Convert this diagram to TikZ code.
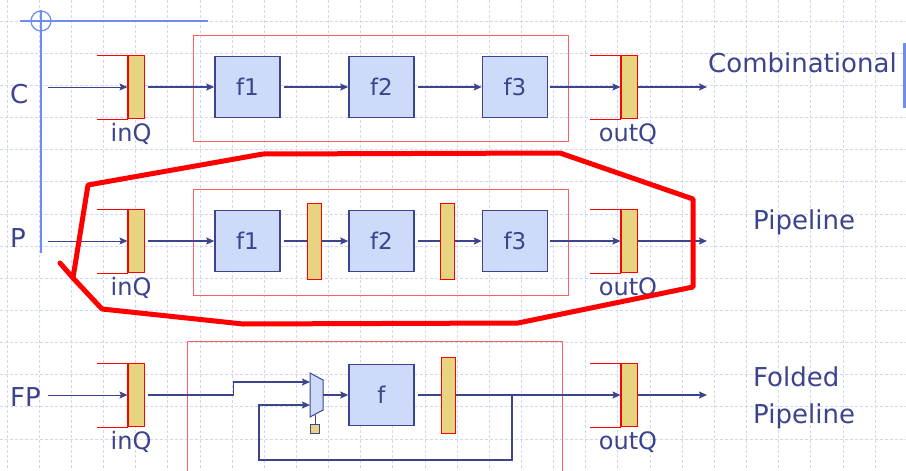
\documentclass[tikz,border=0pt]{standalone}
\usepackage{fontspec}
\setmainfont{DejaVu Sans}
\usetikzlibrary{arrows.meta}
\definecolor{inkblue}{RGB}{60,68,140}
\definecolor{boxblue}{RGB}{206,218,250}
\definecolor{qyellow}{RGB}{232,212,128}
\definecolor{framered}{RGB}{255,95,95}
\definecolor{gridblue}{RGB}{208,214,246}
\definecolor{slideblue}{RGB}{110,140,245}
\begin{document}
\begin{tikzpicture}[x=1pt,y=-1pt,
    gridline/.style={gridblue,line width=0.8pt,dash pattern=on 3pt off 2pt},
    fbox/.style={draw=inkblue,line width=1.5pt,fill=boxblue,minimum width=65pt,minimum height=61pt,inner sep=0pt,text=inkblue,font=\fontsize{23}{26}\selectfont},
    queue/.style={draw=red,line width=1pt,fill=qyellow,minimum width=16pt,minimum height=63pt,inner sep=0pt},
    preg/.style={draw=red,line width=1pt,fill=qyellow,minimum width=14pt,minimum height=76pt,inner sep=0pt},
    lbl/.style={text=inkblue,inner sep=0pt,font=\fontsize{26}{37}\selectfont},
    qlbl/.style={text=inkblue,inner sep=0pt,font=\fontsize{24}{28}\selectfont},
    stageframe/.style={framered,line width=1pt},
    link/.style={inkblue,line width=1.6pt,-{Stealth[length=8pt,width=7pt,inset=1.5pt]}},
    thinlink/.style={link,line width=1pt},
    wire/.style={inkblue,line width=1.6pt}]
    \fill[white] (0,0) rectangle (906,471);
    \useasboundingbox (0,0) rectangle (906,471);
    % slide grid and title marks
    \foreach \gx in {0,...,27} \draw[gridline] ({7+\gx*32.15},0) -- ++(0,471);
    \foreach \gy in {0,...,14} \draw[gridline] (0,{21+\gy*32.15}) -- ++(906,0);
    \draw[slideblue,line width=1.2pt] (20,21) -- (208,21);
    \draw[slideblue,line width=1.2pt] (41,21) circle (10);
    \draw[slideblue,line width=2pt] (41,10) -- (41,253);
    \draw[slideblue,line width=3pt] (904,43) -- (904,108);

    % queues of the three rows
    \foreach \r/\ry in {C/87,P/241,F/395} {
        \node[queue] (inQ\r) at (136,\ry) {};
        \node[queue] (outQ\r) at (629,\ry) {};
        \draw[red,line width=1pt] (inQ\r.north west) -- ++(-31,0) (inQ\r.south west) -- ++(-31,0);
        \draw[red,line width=1pt] (outQ\r.north west) -- ++(-31,0) (outQ\r.south west) -- ++(-31,0);
        \draw[red,line width=2pt] (inQ\r.north west) -- (inQ\r.south west);
        \draw[red,line width=2pt] (outQ\r.north west) -- (outQ\r.south west);
        \node[qlbl] (inQlbl\r) at (131,\ry+47) {inQ};
        \node[qlbl] (outQlbl\r) at (628,\ry+47) {outQ};
        \coordinate (src\r) at (48,\ry);
        \coordinate (out\r) at (707,\ry);
        \draw[thinlink] (src\r) -- (inQ\r);
        \draw[link] (outQ\r) -- (out\r);
    }

    % combinational
    \node[lbl,anchor=west] (nameC) at (10,94) {C};
    \draw[stageframe] (193,35) rectangle (568,141);
    \node[fbox] (f1C) at (247.5,87) {f1};
    \node[fbox] (f2C) at (381.5,87) {f2};
    \node[fbox] (f3C) at (515,87) {f3};
    \draw[link,shorten <=3pt] (inQC) -- (f1C);
    \draw[link,shorten <=3pt] (f1C) -- (f2C);
    \draw[link,shorten <=3pt] (f2C) -- (f3C);
    \draw[link,shorten <=2pt] (f3C) -- (outQC);
    \node[lbl,anchor=west] (kindC) at (708,63) {Combinational};

    % pipeline
    \node[lbl,anchor=west] (nameP) at (10,238) {P};
    \draw[stageframe] (193,189) rectangle (568,295);
    \node[fbox] (f1P) at (247.5,241) {f1};
    \node[preg] (r1P) at (314,241) {};
    \node[fbox] (f2P) at (381.5,241) {f2};
    \node[preg] (r2P) at (447.5,241) {};
    \node[fbox] (f3P) at (515,241) {f3};
    \draw[link,shorten <=3pt] (inQP) -- (f1P);
    \draw[wire,shorten <=3pt] (f1P) -- (r1P);
    \draw[link] (r1P) -- (f2P);
    \draw[wire,shorten <=3pt] (f2P) -- (r2P);
    \draw[link] (r2P) -- (f3P);
    \draw[link,shorten <=2pt] (f3P) -- (outQP);
    \node[lbl,anchor=west] (kindP) at (753,222) {Pipeline};

    % folded pipeline
    \node[lbl,anchor=west] (nameF) at (10,397) {FP};
    \draw[stageframe] (187,472) -- (187,341) -- (562,341) -- (562,472);
    \draw[inkblue,line width=1pt,fill=boxblue] (310,373) -- (323,380) -- (323,410) -- (310,417) -- cycle;
    \coordinate (muxA) at (310,382);
    \coordinate (muxB) at (310,405);
    \coordinate (muxO) at (323,395);
    \node[draw=inkblue,fill=qyellow,line width=0.8pt,minimum size=9pt,inner sep=0pt] (selF) at (315,428.5) {};
    \draw[inkblue,line width=0.8pt] (315,414.5) -- (selF.north);
    \node[fbox] (fF) at (381.5,395) {f};
    \node[preg] (rF) at (448,395) {};
    \coordinate (tapF) at (512,395);
    \coordinate (loopF) at (259,460);
    \draw[link,shorten <=3pt] (inQF.east) -- ++(89,0) |- (muxA);
    \draw[link] (muxO) -- (fF);
    \draw[wire,shorten <=3pt] (fF) -- (rF);
    \draw[link] (rF) -- (outQF);
    \draw[link] (tapF) |- (loopF) |- (muxB);
    \node[lbl,anchor=west,align=left] (kindF) at (753,398) {Folded\\Pipeline};

    % hand-drawn ring round the pipeline row
    \draw[red,line width=5pt,line join=round,line cap=round] (60,263) -- (73,278) -- (102,309)
        -- (243,324) -- (518,323) -- (693,287) -- (693,199) -- (560,153) -- (263,154)
        -- (88,185) -- (73,278);
\end{tikzpicture}
\end{document}
